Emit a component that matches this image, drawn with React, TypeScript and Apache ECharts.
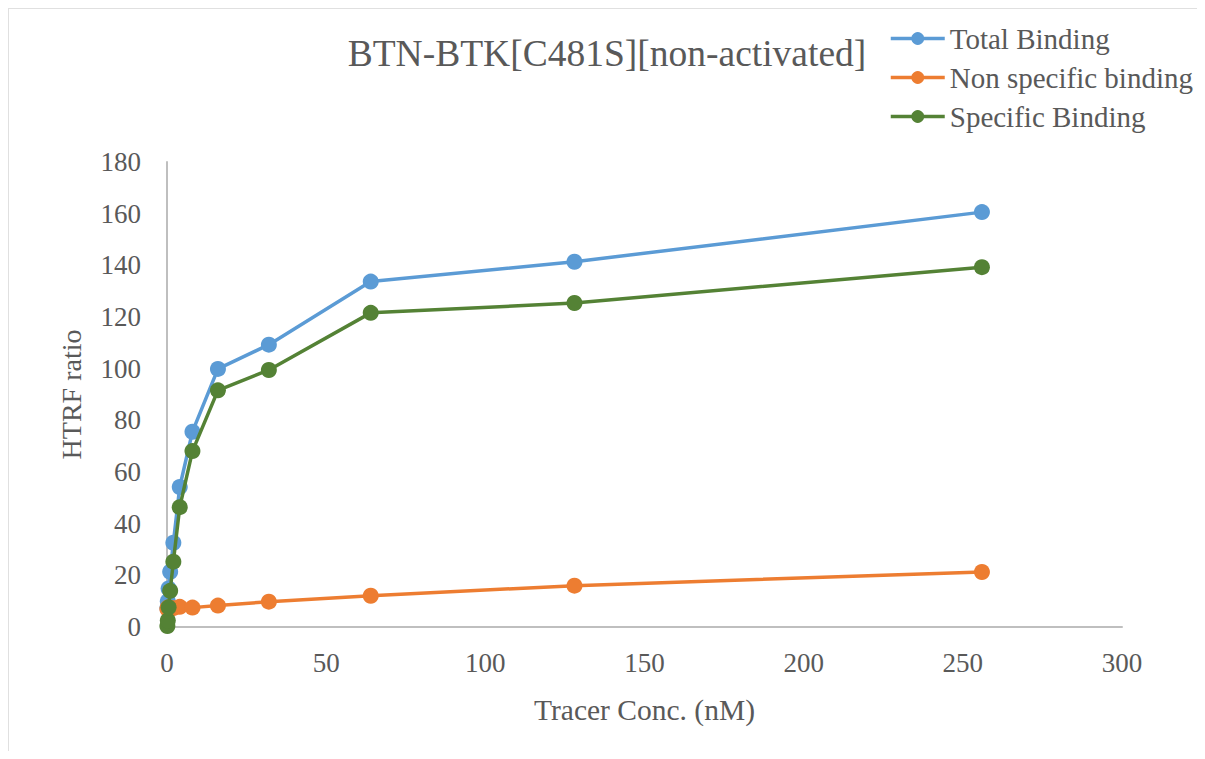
import React, { useEffect, useRef } from "react";
import * as echarts from "echarts";

const conc = [0.125, 0.25, 0.5, 1, 2, 4, 8, 16, 32, 64, 128, 256];
const totalBinding = [7.4, 10.0, 14.9, 21.4, 32.6, 54.2, 75.6, 99.9, 109.3, 133.7, 141.4, 160.6];
const nonSpecific = [7.0, 7.5, 7.3, 7.4, 7.3, 7.8, 7.5, 8.3, 9.8, 12.1, 16.0, 21.3];
const specific = [0.4, 2.5, 7.6, 14.0, 25.3, 46.4, 68.1, 91.6, 99.5, 121.6, 125.4, 139.3];
const seriesNames = ["Total Binding", "Non specific binding", "Specific Binding"];
const colors = ["#5B9BD5", "#ED7D31", "#548235"];

const FONT = "Liberation Serif";

export default function App() {
  const ref = useRef<HTMLDivElement>(null);
  useEffect(() => {
    if (!ref.current) return;
    const chart = echarts.init(ref.current, undefined, { renderer: "svg" });
    const all = [totalBinding, nonSpecific, specific];
    chart.setOption({
      animation: false,
      backgroundColor: "#ffffff",
      textStyle: { fontFamily: FONT },
      title: {
        text: "BTN-BTK[C481S][non-activated]",
        left: 593,
        top: 20,
        textAlign: "center",
        textStyle: { fontFamily: FONT, fontSize: 37.5, fontWeight: "normal", color: "#595959" },
      },
      legend: {
        orient: "vertical",
        left: 880,
        top: 15,
        padding: 0,
        itemWidth: 54,
        itemHeight: 16,
        itemGap: 10,
        lineStyle: { width: 3.5 },
        textStyle: { fontFamily: FONT, fontSize: 29, color: "#595959" },
        data: seriesNames,
      },
      grid: { left: 158, top: 153, width: 955, height: 465 },
      xAxis: {
        type: "value",
        min: 0,
        max: 300,
        interval: 50,
        name: "Tracer Conc. (nM)",
        nameLocation: "middle",
        nameGap: 68,
        nameTextStyle: { fontFamily: FONT, fontSize: 29.5, color: "#595959" },
        axisLine: { show: true, lineStyle: { color: "#BFBFBF", width: 2 } },
        axisTick: { show: false },
        splitLine: { show: false },
        axisLabel: { fontFamily: FONT, fontSize: 27, color: "#595959", margin: 22 },
      },
      yAxis: {
        type: "value",
        min: 0,
        max: 180,
        interval: 20,
        name: "HTRF ratio",
        nameLocation: "middle",
        nameGap: 82,
        nameTextStyle: { fontFamily: FONT, fontSize: 28, color: "#595959" },
        axisLine: { show: true, lineStyle: { color: "#BFBFBF", width: 2 } },
        axisTick: { show: false },
        splitLine: { show: false },
        axisLabel: { fontFamily: FONT, fontSize: 27, color: "#595959", margin: 26 },
      },
      series: seriesNames.map((name, i) => ({
        name,
        type: "line",
        data: conc.map((c, j) => [c, all[i][j]]),
        symbol: "circle",
        symbolSize: 16,
        lineStyle: { width: 3.5, color: colors[i] },
        itemStyle: { color: colors[i] },
        z: i === 2 ? 3 : i === 1 ? 2 : 1,
      })),
    });
    return () => chart.dispose();
  }, []);
  return (
    <div
      ref={ref}
      style={{
        width: 1189,
        height: 743,
        borderTop: "1px solid #e0e0e0",
        borderLeft: "1px solid #e0e0e0",
        boxSizing: "border-box",
      }}
    />
  );
}
